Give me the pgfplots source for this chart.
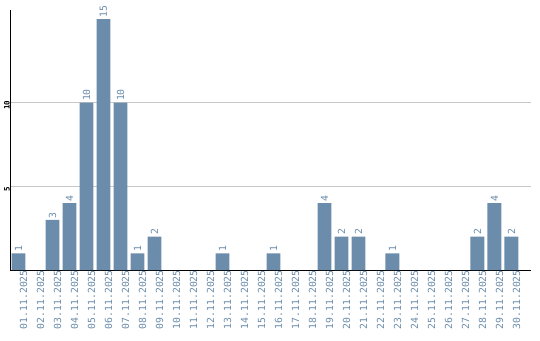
\documentclass[border=0pt]{standalone}
\usepackage{pgfplots}
\pgfplotsset{compat=1.18}
\usepackage{fontspec}
\newfontfamily\monofont{DejaVu Sans Mono}
\definecolor{barc}{RGB}{107,140,171}
\definecolor{gridc}{RGB}{200,200,200}
\begin{document}
\begin{tikzpicture}
\useasboundingbox (0,0) rectangle (540pt,340pt);
\begin{axis}[
  at={(10pt,70pt)}, anchor=south west,
  scale only axis, width=521pt, height=260pt,
  xmin=-0.5, xmax=30.15, ymin=0, ymax=15.54,
  clip=false,
  /pgf/number format/assume math mode=true,
  axis lines*=left,
  axis line style={black, line width=1pt},
  major tick length=0pt,
  xtick={0,...,29},
  xticklabels={01.11.2025,02.11.2025,03.11.2025,04.11.2025,05.11.2025,06.11.2025,07.11.2025,08.11.2025,09.11.2025,10.11.2025,11.11.2025,12.11.2025,13.11.2025,14.11.2025,15.11.2025,16.11.2025,17.11.2025,18.11.2025,19.11.2025,20.11.2025,21.11.2025,22.11.2025,23.11.2025,24.11.2025,25.11.2025,26.11.2025,27.11.2025,28.11.2025,29.11.2025,30.11.2025},
  x tick label style={rotate=90, anchor=east, font=\monofont\fontsize{9.8}{10}\selectfont, text=barc, inner sep=0pt, yshift=-5pt},
  ytick={5,10},
  y tick label style={rotate=90, anchor=south, font=\monofont\bfseries\fontsize{7.5}{8}\selectfont, text=black, inner sep=0pt, xshift=-2.5pt},
  ymajorgrids,
  grid style={gridc, line width=0.8pt},
  ybar, bar width=0.82,
  nodes near coords,
  nodes near coords style={rotate=90, anchor=west, font=\monofont\fontsize{9.8}{10}\selectfont, text=barc, inner sep=1.5pt},
]
\addplot[fill=barc, draw=none] coordinates {
(0,1) (2,3) (3,4) (4,10) (5,15) (6,10) (7,1) (8,2) (12,1) (15,1) (18,4) (19,2) (20,2) (22,1) (27,2) (28,4) (29,2)
};
\end{axis}
\end{tikzpicture}
\end{document}
